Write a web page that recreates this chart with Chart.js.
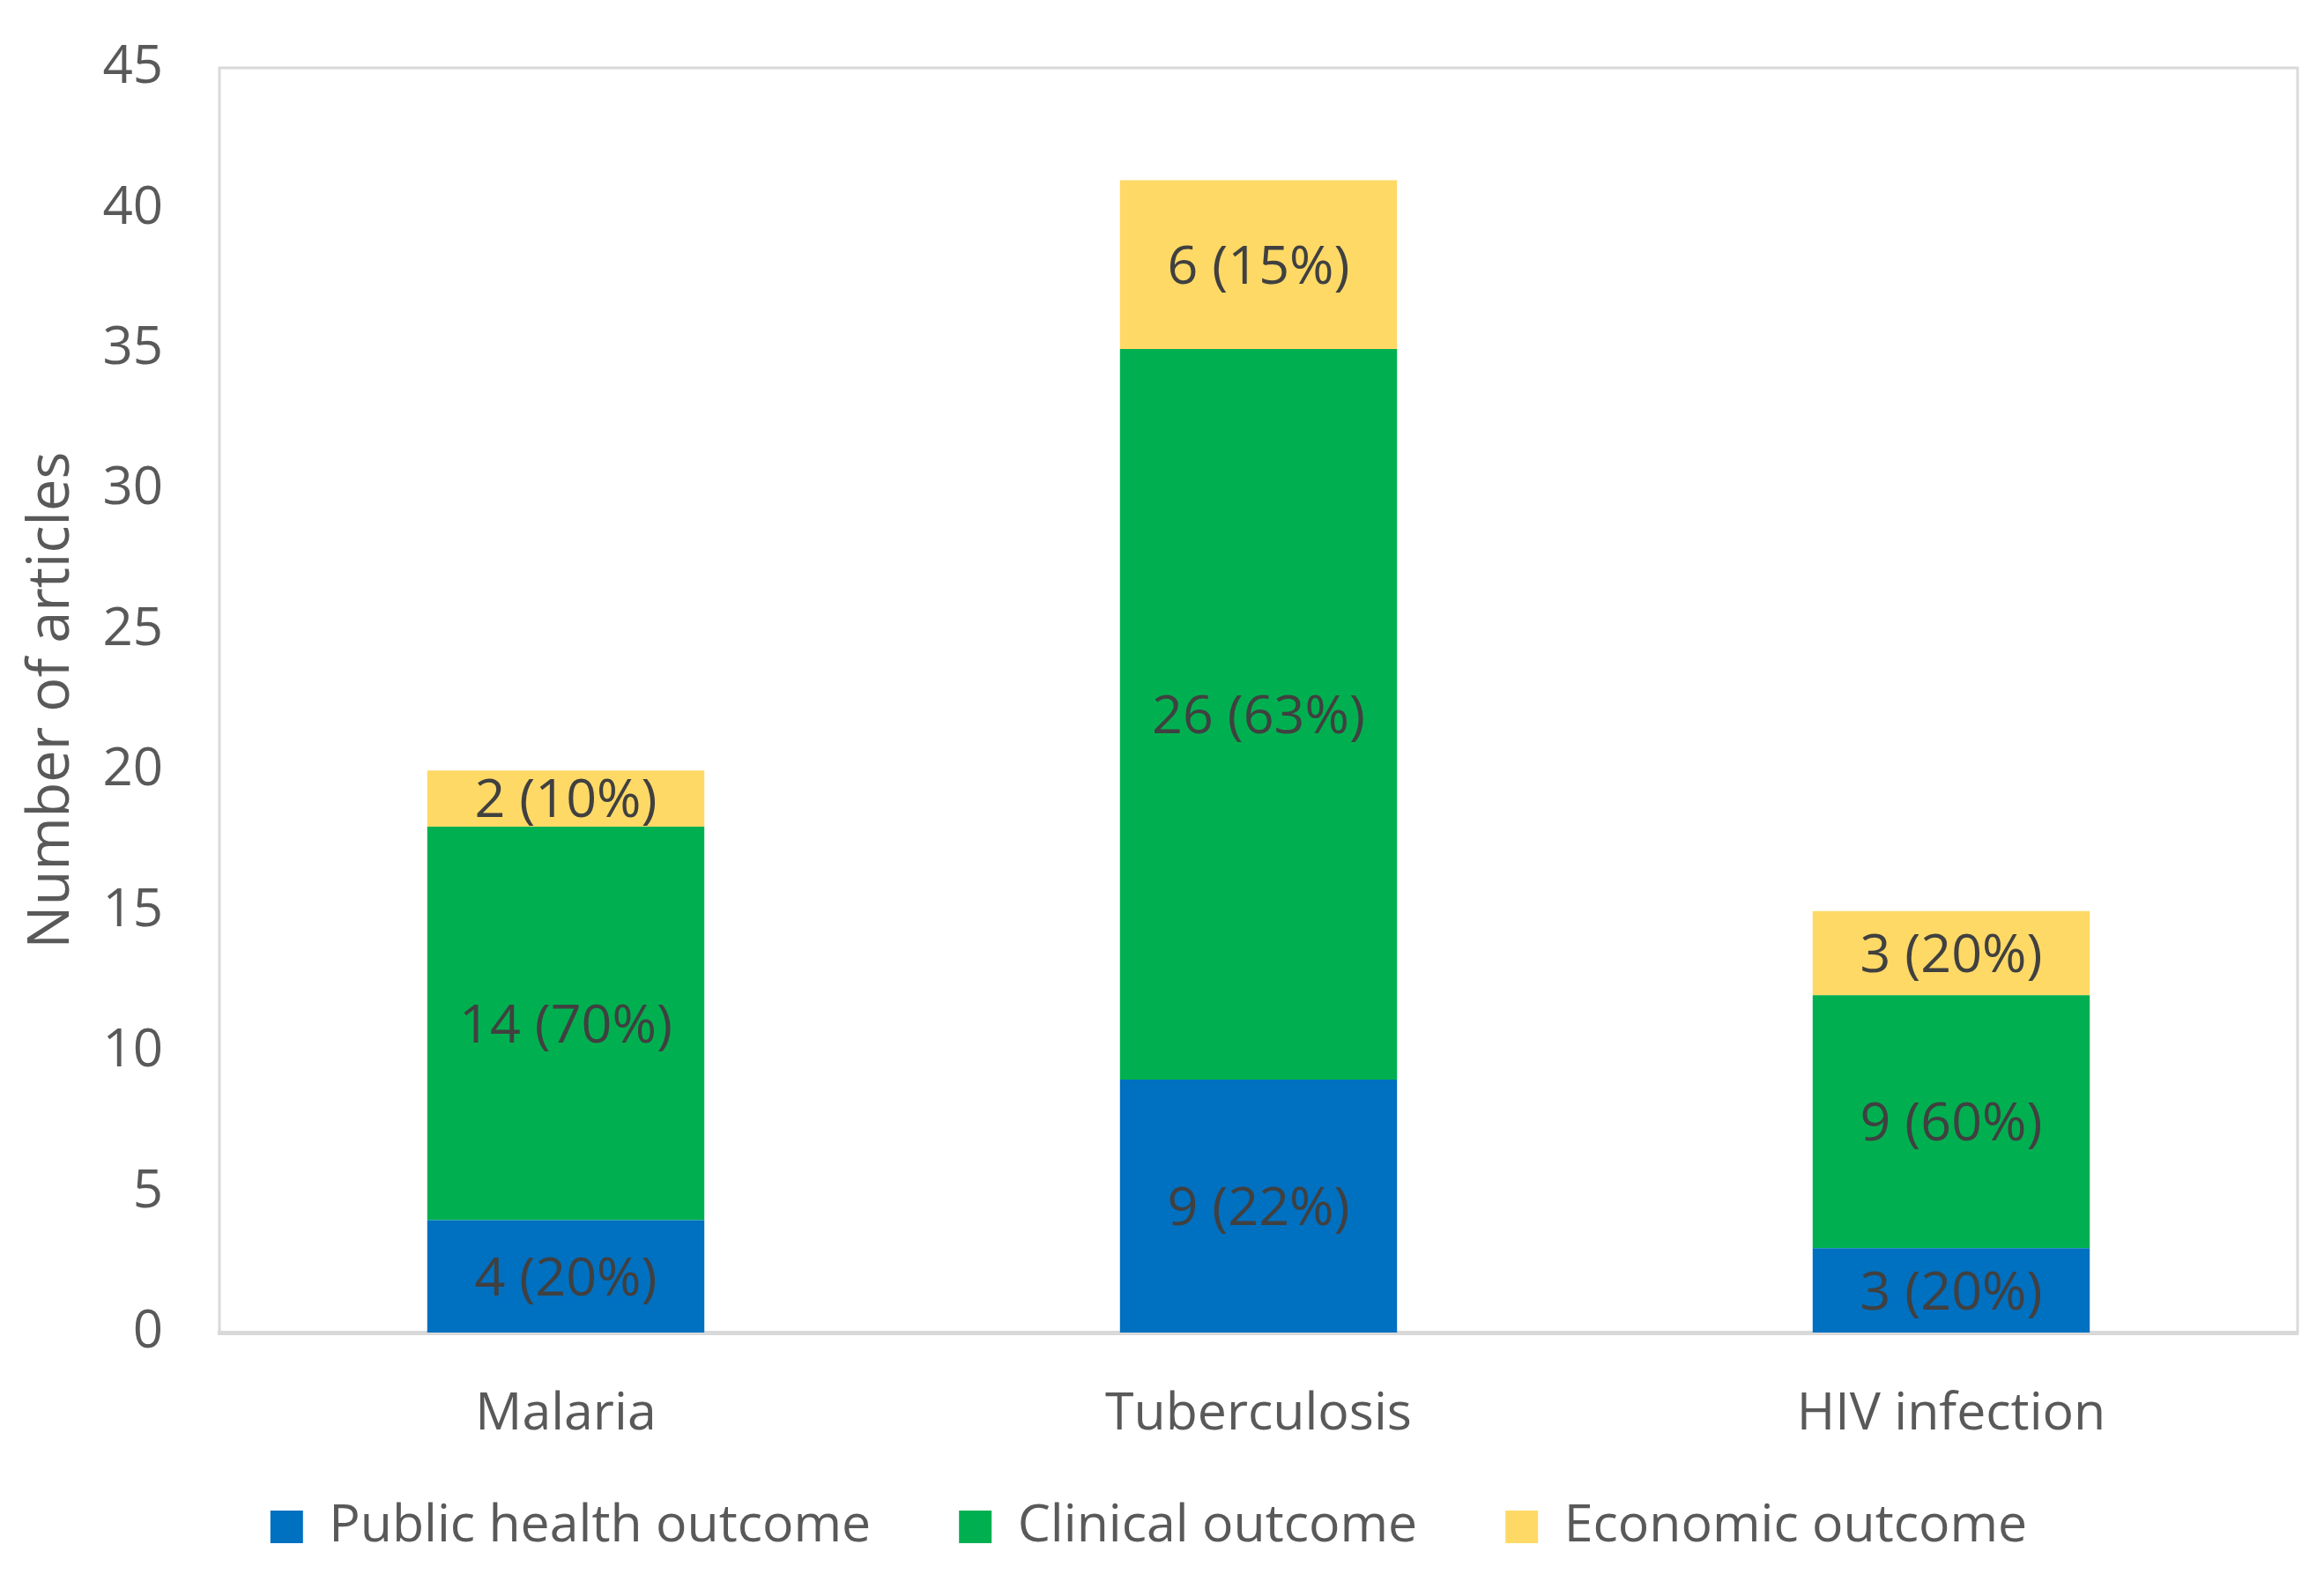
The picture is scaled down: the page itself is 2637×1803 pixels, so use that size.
<!DOCTYPE html>
<html>
<head>
<meta charset="utf-8">
<script src="https://cdn.jsdelivr.net/npm/chart.js@4.4.1/dist/chart.umd.min.js"></script>
<style>
  html, body { margin: 0; padding: 0; background: #fff; }
  #wrap { width: 2637px; height: 1803px; }
</style>
</head>
<body>
<div id="wrap"><canvas id="myChart"></canvas></div>
<script>
const categories = ['Malaria', 'Tuberculosis', 'HIV infection'];
const publicHealth = [4, 9, 3];
const clinical = [14, 26, 9];
const economic = [2, 6, 3];
const publicHealthPct = [20, 22, 20];
const clinicalPct = [70, 63, 60];
const economicPct = [10, 15, 20];
const yTicks = [0, 5, 10, 15, 20, 25, 30, 35, 40, 45];

const FONT = "'Open Sans', sans-serif";

// writes "n (p%)" in the middle of each stacked segment
const segmentLabels = {
  id: 'segmentLabels',
  afterDatasetsDraw(chart) {
    const ctx = chart.ctx;
    ctx.save();
    ctx.font = '61px ' + FONT;
    ctx.fillStyle = '#404040';
    ctx.textAlign = 'center';
    ctx.textBaseline = 'middle';
    chart.data.datasets.forEach((ds, i) => {
      chart.getDatasetMeta(i).data.forEach((bar, j) => {
        const p = bar.getProps(['x', 'y', 'base'], true);
        ctx.fillText(ds.data[j] + ' (' + ds.pct[j] + '%)', p.x, (p.y + p.base) / 2 + 4);
      });
    });
    ctx.restore();
  }
};

// light grey frame round the plot area, like the Excel plot area border
const plotFrame = {
  id: 'plotFrame',
  beforeDatasetsDraw(chart) {
    const a = chart.chartArea;
    const ctx = chart.ctx;
    ctx.save();
    ctx.strokeStyle = '#d9d9d9';
    ctx.lineWidth = 3;
    ctx.strokeRect(a.left, a.top, a.right - a.left, a.bottom - a.top);
    ctx.restore();
  }
};

// legend padding sets both item spacing and the gap above; pull the row up a bit
const legendLift = {
  id: 'legendLift',
  afterLayout(chart) {
    chart.legend.top -= 31;
    chart.legend.bottom -= 31;
  }
};

const ctx = document.getElementById('myChart').getContext('2d');
const chart = new Chart(ctx, {
  type: 'bar',
  data: {
    labels: categories,
    datasets: [{
      label: 'Public health outcome',
      data: publicHealth,
      pct: publicHealthPct,
      backgroundColor: '#0070c0'
    }, {
      label: 'Clinical outcome',
      data: clinical,
      pct: clinicalPct,
      backgroundColor: '#00b050'
    }, {
      label: 'Economic outcome',
      data: economic,
      pct: economicPct,
      backgroundColor: '#ffd966'
    }]
  },
  options: {
    responsive: true,
    maintainAspectRatio: false,
    animation: false,
    devicePixelRatio: 1,
    layout: { padding: { top: 0, right: 30, left: 0, bottom: 0 } },
    datasets: {
      bar: { categoryPercentage: 1.0, barPercentage: 0.4 }
    },
    scales: {
      x: {
        stacked: true,
        grid: { display: false, drawTicks: false },
        border: { display: true, color: '#d9d9d9', width: 5 },
        ticks: { color: '#595959', font: { family: FONT, size: 59 }, padding: 58 },
        afterFit(scale) { scale.height = 122; }
      },
      y: {
        stacked: true,
        min: 0,
        max: 45,
        afterBuildTicks(axis) { axis.ticks = yTicks.map(v => ({ value: v })); },
        afterFit(scale) {
          scale.width = 249;
          scale.paddingTop = 77;
          scale.paddingBottom = 0;
        },
        grid: { display: false, drawTicks: false },
        border: { display: false },
        ticks: { color: '#595959', font: { family: FONT, size: 60 }, padding: 64 },
        title: {
          display: true,
          text: 'Number of articles',
          color: '#595959',
          font: { family: FONT, size: 65 },
          padding: { top: 20, bottom: 0 }
        }
      }
    },
    plugins: {
      tooltip: { enabled: false },
      legend: {
        position: 'bottom',
        labels: {
          color: '#595959',
          font: { family: FONT, size: 59 },
          boxWidth: 37,
          boxHeight: 37,
          padding: 100
        }
      }
    }
  },
  plugins: [plotFrame, segmentLabels, legendLift]
});
</script>
</body>
</html>
